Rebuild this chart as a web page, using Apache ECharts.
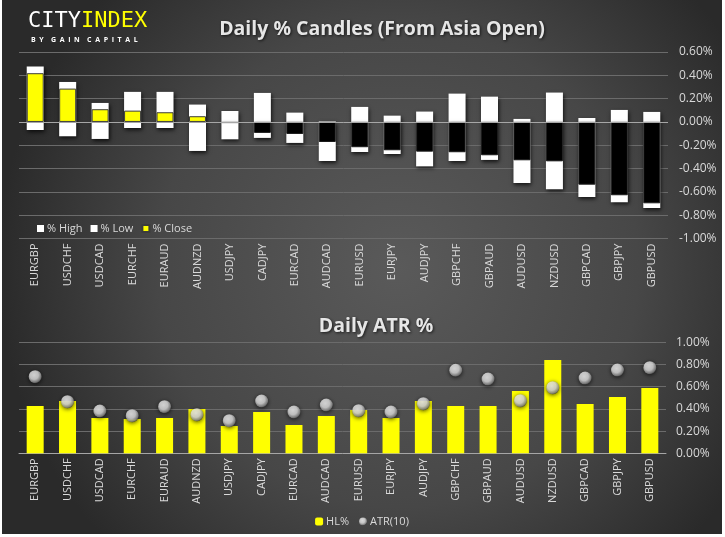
<!DOCTYPE html>
<html><head><meta charset="utf-8">
<script src="https://cdn.jsdelivr.net/npm/echarts@6/dist/echarts.min.js"></script>
<style>
html,body{margin:0;padding:0;background:#ffffff;width:725px;height:537px;overflow:hidden}
#c{position:absolute;left:2px;top:0px;width:720px;height:534px}
</style></head>
<body><div id="c"></div>
<script>
const categories = ['EURGBP','USDCHF','USDCAD','EURCHF','EURAUD','AUDNZD','USDJPY','CADJPY','EURCAD','AUDCAD','EURUSD','EURJPY','AUDJPY','GBPCHF','GBPAUD','AUDUSD','NZDUSD','GBPCAD','GBPJPY','GBPUSD'];
const highPct  = [0.475,0.343,0.163,0.258,0.258,0.149,0.094,0.249,0.080,0.005,0.129,0.054,0.089,0.243,0.217,0.026,0.252,0.034,0.103,0.086];
const lowPct   = [-0.069,-0.123,-0.146,-0.052,-0.052,-0.249,-0.149,-0.137,-0.180,-0.335,-0.258,-0.275,-0.381,-0.335,-0.326,-0.524,-0.578,-0.644,-0.690,-0.738];
const closePct = [0.418,0.286,0.109,0.097,0.083,0.049,-0.010,-0.094,-0.103,-0.172,-0.217,-0.243,-0.255,-0.260,-0.286,-0.329,-0.338,-0.538,-0.629,-0.698];
const hlPct    = [0.426,0.471,0.318,0.309,0.318,0.399,0.246,0.372,0.255,0.336,0.390,0.318,0.471,0.426,0.426,0.561,0.841,0.444,0.507,0.588];
const atrPct   = [0.690,0.465,0.381,0.339,0.420,0.348,0.294,0.471,0.372,0.435,0.384,0.372,0.447,0.748,0.669,0.474,0.591,0.678,0.750,0.771];

const FONT = '"Open Sans", "Noto Sans", sans-serif';
const TXT = '#d9d9d9';
const GRID = '#6b6b6b';
const pctFmt = v => v.toFixed(2) + '%';

const sphere = {
  type: 'radial', x: 0.42, y: 0.38, r: 0.65,
  colorStops: [
    {offset: 0, color: '#ffffff'},
    {offset: 0.5, color: '#e6e6e6'},
    {offset: 0.85, color: '#8a8a8a'},
    {offset: 1, color: '#3a3a3a'}
  ]
};

const titleStyle = {color: '#e6e6e6', fontSize: 19.5, fontWeight: 'bold', fontFamily: FONT,
  textShadowColor: 'rgba(0,0,0,0.7)', textShadowBlur: 3, textShadowOffsetX: 1, textShadowOffsetY: 1};

const chart = echarts.init(document.getElementById('c'), null, {renderer: 'canvas'});
chart.setOption({
  backgroundColor: {
    type: 'radial', x: 0.55, y: 0.5, r: 0.75,
    colorStops: [
      {offset: 0, color: '#5a5a5a'},
      {offset: 0.6, color: '#474747'},
      {offset: 1, color: '#2a2a2a'}
    ]
  },
  animation: false,
  textStyle: {fontFamily: FONT},
  title: [
    {text: 'Daily % Candles (From Asia Open)', left: 375, top: 14, textAlign: 'center', textStyle: titleStyle},
    {text: 'Daily ATR %', left: 369, top: 311, textAlign: 'center', textStyle: titleStyle}
  ],
  graphic: [
    {type: 'text', left: 26, top: 10, style: {
      text: '{a|CITY}{b|INDEX}',
      rich: {
        a: {fill: '#ffffff', fontSize: 22, fontFamily: '"DejaVu Sans Mono", monospace'},
        b: {fill: '#ffff00', fontSize: 22, fontFamily: '"DejaVu Sans Mono", monospace'}
      }}},
    {type: 'text', left: 29, top: 36, style: {
      text: 'B  Y    G  A  I  N    C  A  P  I  T  A  L', fill: '#ffffff', fontSize: 7, fontWeight: 'bold', fontFamily: FONT}}
  ],
  legend: [
    {data: ['% High', '% Low', '% Close'], left: 30, top: 218,
     itemWidth: 7, itemHeight: 7, itemGap: 8, icon: 'rect',
     textStyle: {color: TXT, fontSize: 11, fontFamily: FONT, padding: [0,0,0,-2]}},
    {data: ['HL%', {name: 'ATR(10)', icon: 'circle'}], left: 'center', top: 511,
     itemWidth: 8, itemHeight: 8, itemGap: 10,
     textStyle: {color: TXT, fontSize: 11, fontFamily: FONT, padding: [0,0,0,-2]}}
  ],
  grid: [
    {left: 17, right: 54, top: 52, bottom: 295.5},
    {left: 17, right: 56, top: 342.3, bottom: 80.7}
  ],
  xAxis: [
    {type: 'category', gridIndex: 0, data: categories, position: 'bottom',
     axisLine: {show: false, onZero: false}, axisTick: {show: false},
     axisLabel: {rotate: 90, color: TXT, fontSize: 11, margin: 5, fontFamily: FONT, interval: 0}},
    {type: 'category', gridIndex: 1, data: categories,
     axisLine: {show: true, lineStyle: {color: '#a6a6a6', width: 1}}, axisTick: {show: false},
     axisLabel: {rotate: 90, color: TXT, fontSize: 11, margin: 5, fontFamily: FONT, interval: 0}}
  ],
  yAxis: [
    {type: 'value', gridIndex: 0, position: 'right', min: -1, max: 0.6, interval: 0.2,
     axisLine: {show: false}, axisTick: {show: false},
     splitLine: {lineStyle: {color: GRID, width: 1}},
     axisLabel: {color: TXT, fontSize: 12, margin: 11, formatter: pctFmt, fontFamily: FONT}},
    {type: 'value', gridIndex: 1, position: 'right', min: 0, max: 1, interval: 0.2,
     axisLine: {show: false}, axisTick: {show: false},
     splitLine: {lineStyle: {color: GRID, width: 1}},
     axisLabel: {color: TXT, fontSize: 12, margin: 10, formatter: pctFmt, fontFamily: FONT}}
  ],
  series: [
    {name: '% High', type: 'bar', xAxisIndex: 0, yAxisIndex: 0, data: highPct, barWidth: 17, barGap: '-100%',
     itemStyle: {color: '#ffffff', shadowColor: 'rgba(0,0,0,0.75)', shadowBlur: 4, shadowOffsetX: 1, shadowOffsetY: 2}},
    {name: '% Low', type: 'bar', xAxisIndex: 0, yAxisIndex: 0, data: lowPct, barWidth: 17, barGap: '-100%',
     itemStyle: {color: '#ffffff', shadowColor: 'rgba(0,0,0,0.75)', shadowBlur: 4, shadowOffsetX: 1, shadowOffsetY: 2}},
    {name: '% Close', type: 'bar', xAxisIndex: 0, yAxisIndex: 0, barWidth: 17, barGap: '-100%',
     data: closePct.map(v => v < 0 ? {value: v, itemStyle: {color: '#000000', borderColor: '#1a1a1a'}} : v),
     itemStyle: {color: '#ffff00', borderColor: '#3c3c3c', borderWidth: 1},
     markLine: {silent: true, symbol: 'none', label: {show: false},
                lineStyle: {color: '#a6a6a6', width: 1, type: 'solid'},
                data: [{yAxis: 0}]}},
    {name: 'HL%', type: 'bar', xAxisIndex: 1, yAxisIndex: 1, data: hlPct, barWidth: 17,
     itemStyle: {color: '#ffff00'}},
    {name: 'ATR(10)', type: 'scatter', xAxisIndex: 1, yAxisIndex: 1, data: atrPct, symbolSize: 13,
     itemStyle: {color: sphere, shadowColor: 'rgba(0,0,0,0.85)', shadowBlur: 4, shadowOffsetX: 0, shadowOffsetY: 1}, z: 5}
  ]
});
</script></body></html>
